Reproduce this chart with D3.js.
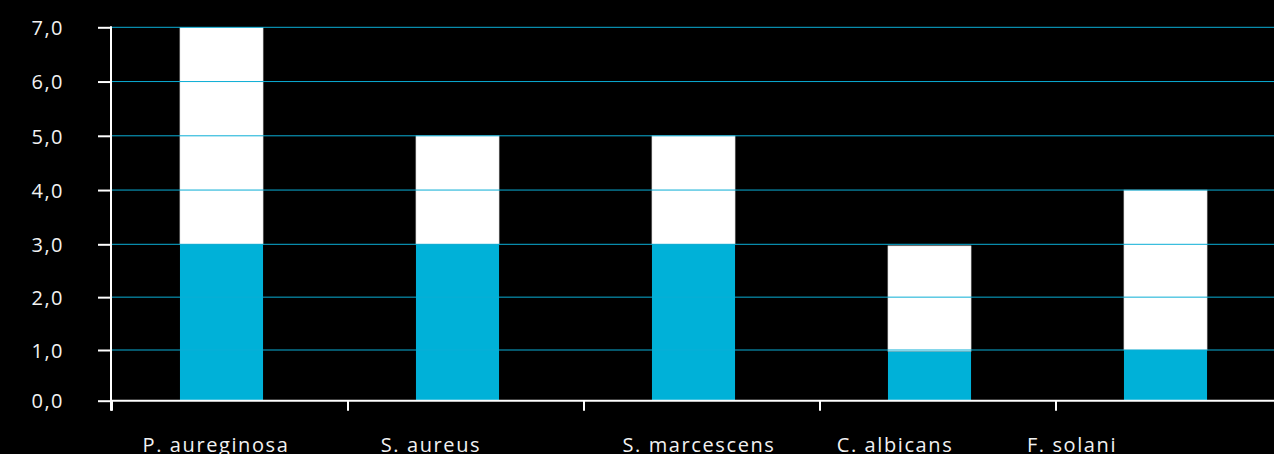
<!DOCTYPE html>
<html lang="en">
<head>
<meta charset="utf-8">
<title>Organisms</title>
<script src="https://cdn.jsdelivr.net/npm/d3@7/dist/d3.min.js"></script>
<style>
  html, body { margin: 0; padding: 0; background: #000; }
  .axis text { font-family: "Open Sans", sans-serif; fill: #f2f2f2; }
</style>
</head>
<body>
<script>
// data
var organisms = ["P. aureginosa", "S. aureus", "S. marcescens", "C. albicans", "F. solani"];
var lowerValues = [3, 3, 3, 0.97, 1];
var totalValues = [7, 5, 5, 2.97, 4];
var yTicks = [0, 1, 2, 3, 4, 5, 6, 7];

var w = 1274, h = 454;
var padLeft = 112;

var svg = d3.select("body").append("svg").attr("width", w).attr("height", h)
  .style("display", "block").style("background", "#000");

var x = d3.scaleBand().domain(organisms).range([padLeft, padLeft + 5 * 236]).padding(0);
// the slide's value axis is not quite even, so follow its gridline spacing
var y = d3.scaleLinear().domain([0, 1, 3, 7]).range([400.7, 350, 244.3, 27.3]);
var plotBottom = y(0), plotTop = y(7);
var bw = x.bandwidth();
var barX = function(d) { return x(d) + bw * 0.288; };
var barW = bw * 0.352;

var rows = organisms.map(function(o, i) { return {name: o, low: lowerValues[i], total: totalValues[i]}; });

// white upper part
svg.selectAll("rect.upper").data(rows).enter().append("rect")
  .attr("class", "upper")
  .attr("x", function(d) { return barX(d.name); })
  .attr("width", barW)
  .attr("y", function(d) { return y(d.total); })
  .attr("height", function(d) { return y(d.low) - y(d.total); })
  .attr("fill", "#ffffff")
  .attr("stroke", "#d8d8d8").attr("stroke-width", 0.6);

// cyan lower part
svg.selectAll("rect.low").data(rows).enter().append("rect")
  .attr("class", "low")
  .attr("x", function(d) { return barX(d.name); })
  .attr("width", barW)
  .attr("y", function(d) { return y(d.low); })
  .attr("height", function(d) { return y(0) - y(d.low); })
  .attr("fill", "#00b1d8");

// gridlines drawn on top of the bars
svg.selectAll("line.grid").data(yTicks.slice(1)).enter().append("line")
  .attr("class", "grid")
  .attr("x1", padLeft).attr("x2", w)
  .attr("y1", function(d) { return y(d); })
  .attr("y2", function(d) { return y(d); })
  .attr("stroke", "#0aaed6").attr("stroke-width", 1);

// y axis
var yAxis = d3.axisLeft(y).tickValues(yTicks).tickSize(13).tickPadding(34)
  .tickFormat(function(d) { return d3.format(".1f")(d).replace(".", ","); });
var gy = svg.append("g").attr("class", "axis").attr("transform", "translate(" + (padLeft - 1) + ",0)").call(yAxis);
gy.select(".domain").remove();
gy.selectAll("line").attr("stroke", "#fff").attr("stroke-width", 2);
gy.selectAll("text").style("font-size", "20px").style("letter-spacing", "1.5px").attr("dy", "0.36em");
svg.append("line").attr("x1", padLeft - 1).attr("x2", padLeft - 1).attr("y1", plotTop - 1).attr("y2", plotBottom + 10)
  .attr("stroke", "#fff").attr("stroke-width", 2);

// x axis
var xAxis = d3.axisBottom(x).tickSize(0).tickFormat("");
var gx = svg.append("g").attr("class", "axis").attr("transform", "translate(0," + plotBottom + ")").call(xAxis);
gx.select(".domain").remove();
svg.append("line").attr("x1", padLeft - 1).attr("x2", w).attr("y1", plotBottom).attr("y2", plotBottom)
  .attr("stroke", "#fff").attr("stroke-width", 2);
svg.selectAll("line.xtick").data(organisms).enter().append("line")
  .attr("class", "xtick")
  .attr("x1", function(d) { return x(d); }).attr("x2", function(d) { return x(d); })
  .attr("y1", plotBottom).attr("y2", plotBottom + 10)
  .attr("stroke", "#fff").attr("stroke-width", 2);

// category labels, placed as in the original slide
var labelShift = [-14, -35, -3, -43, -102];
svg.selectAll("text.cat").data(organisms).enter().append("text")
  .attr("class", "cat")
  .attr("x", function(d, i) { return x(d) + bw / 2 + labelShift[i]; })
  .attr("y", 452)
  .attr("text-anchor", "middle")
  .style("font-family", "'Open Sans', sans-serif")
  .style("font-size", "20px")
  .style("letter-spacing", "1.6px")
  .attr("fill", "#f2f2f2")
  .text(function(d) { return d; });
</script>
</body>
</html>
